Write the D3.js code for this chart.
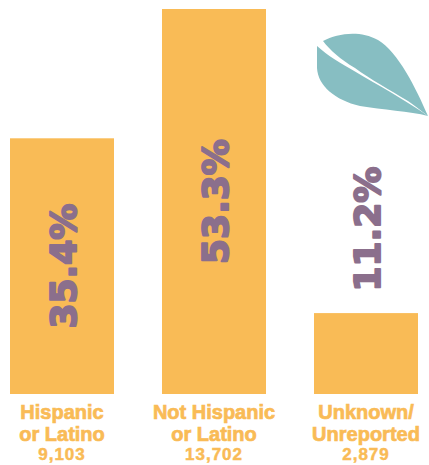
<!DOCTYPE html>
<html>
<head>
<meta charset="utf-8">
<script src="https://cdn.jsdelivr.net/npm/d3@7"></script>
<style>
  html, body { margin: 0; padding: 0; background: #fff; }
  svg { display: block; }
</style>
</head>
<body>
<div id="chart"></div>
<script>
const categories = ['Hispanic or Latino', 'Not Hispanic or Latino', 'Unknown/Unreported'];
const percents = [35.4, 53.3, 11.2];
const counts = ['9,103', '13,702', '2,879'];
const labelLines = [
    ['Hispanic', 'or Latino'],
    ['Not Hispanic', 'or Latino'],
    ['Unknown/', 'Unreported']
];

const width = 429, height = 465;
const barColor = '#f9bb56';
const pctColor = '#8b6f8c';
const leafColor = '#87bec2';

const svg = d3.select('#chart').append('svg')
    .attr('width', width)
    .attr('height', height);

const x = d3.scaleBand()
    .domain(categories)
    .range([10, 418])
    .paddingInner(48 / 152)
    .paddingOuter(0);

const y = d3.scaleLinear()
    .domain([0, d3.max(percents)])
    .range([394, 9]);

const rows = categories.map((c, i) => ({ cat: c, pct: percents[i], count: counts[i], lines: labelLines[i] }));
const isInside = d => y(0) - y(d.pct) > 170;

svg.selectAll('rect.bar')
    .data(rows)
    .enter()
    .append('rect')
    .attr('class', 'bar')
    .attr('x', d => x(d.cat))
    .attr('y', d => y(d.pct))
    .attr('width', x.bandwidth())
    .attr('height', d => y(0) - y(d.pct))
    .attr('fill', barColor);

// percent labels, rotated; centred in the bar when it is tall enough, else above it
svg.selectAll('text.pct')
    .data(rows)
    .enter()
    .append('text')
    .attr('class', 'pct')
    .attr('transform', d => {
        const cx = x(d.cat) + x.bandwidth() / 2 + 1;
        const cy = isInside(d) ? (y(d.pct) + y(0)) / 2 : y(d.pct) - 84;
        return `translate(${cx},${cy}) rotate(-90)`;
    })
    .attr('text-anchor', 'middle')
    .attr('dominant-baseline', 'central')
    .style('font-family', '"DejaVu Sans", sans-serif')
    .style('font-weight', 'bold')
    .style('font-size', '36px')
    .style('fill', pctColor)
    .style('stroke', pctColor)
    .style('stroke-width', '2px')
    .style('stroke-linejoin', 'round')
    .text(d => d.pct.toFixed(1) + '%');

// category labels below bars
const lab = svg.selectAll('g.lab')
    .data(rows)
    .enter()
    .append('g')
    .attr('class', 'lab')
    .attr('transform', d => `translate(${x(d.cat) + x.bandwidth() / 2},0)`);

lab.each(function (d) {
    const g = d3.select(this);
    d.lines.forEach((line, j) => {
        g.append('text')
            .attr('y', 419 + j * 22)
            .attr('text-anchor', 'middle')
            .style('font-family', '"Liberation Sans", Arial, sans-serif')
            .style('font-weight', 'bold')
            .style('font-size', '20px')
            .style('fill', barColor)
            .style('stroke', barColor)
            .style('stroke-width', '0.7px')
            .text(line);
    });
    g.append('text')
        .attr('y', 460)
        .attr('text-anchor', 'middle')
        .style('font-family', '"Liberation Sans Narrow", "Liberation Sans", sans-serif')
        .style('font-weight', 'bold')
        .style('font-size', '17px')
        .style('letter-spacing', '1px')
        .style('fill', barColor)
        .style('stroke', barColor)
        .style('stroke-width', '0.5px')
        .text(d.count);
});

// leaf logo: two lobes split by a thin white slit
const leaf = svg.append('g').attr('class', 'leaf').attr('fill', leafColor);
leaf.append('path')
    .attr('d', 'M323,41 C338,33 360,30 378,40 C398,52 416,88 428,116 C420,110 414,105 408,101 C390,90 370,79 355,68 C340,59 330,50 323,41 Z');
leaf.append('path')
    .attr('d', 'M317,46 C328,56 340,63 355,71.5 C378,85 405,100 428,116 C410,111 382,110 360,106 C335,100 318,86 317,68 Z');
</script>
</body>
</html>
